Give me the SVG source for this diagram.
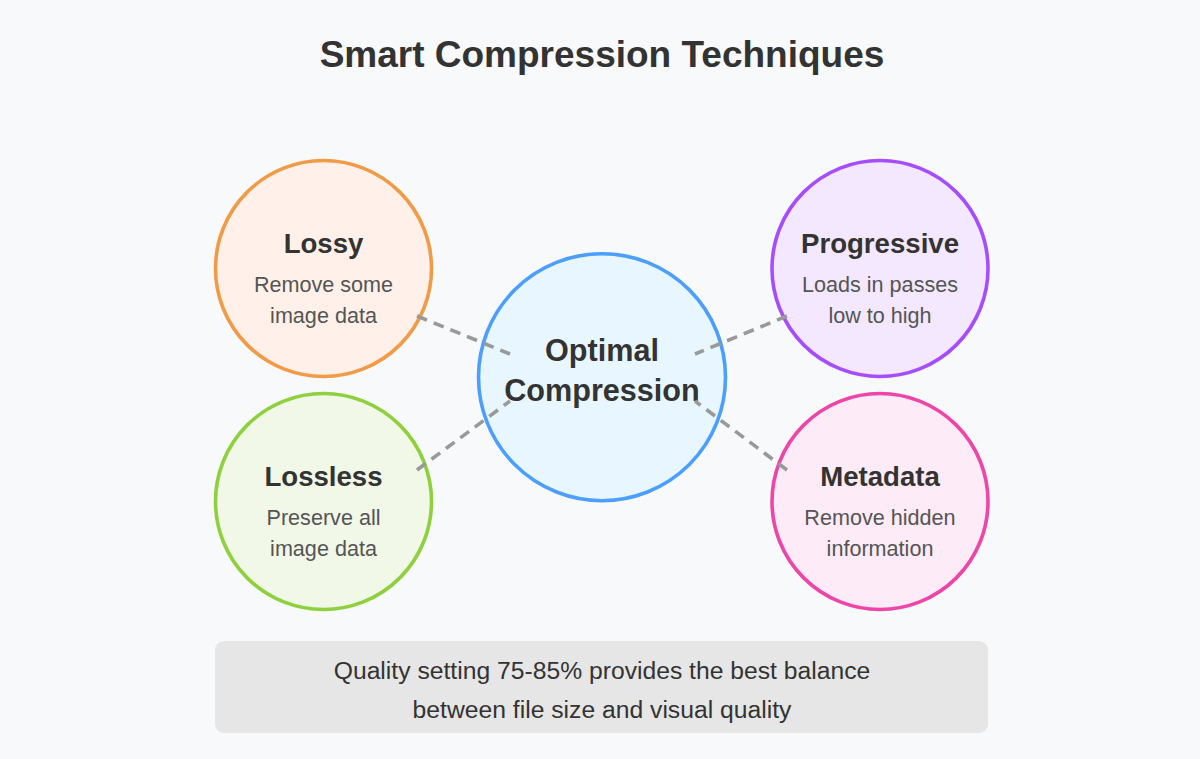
<svg xmlns="http://www.w3.org/2000/svg" width="1200" height="759" viewBox="0 0 1200 759">
<style>
text{font-family:"Liberation Sans",Arial,sans-serif;text-anchor:middle}
.c{stroke-width:3.6}
.h{font-size:27.6px;font-weight:700;fill:#333}
.d{font-size:21.6px;fill:#555}
.m{font-size:30.6px;font-weight:700;fill:#333}
.n{font-size:24.7px;fill:#333}
.l{stroke:#999;stroke-width:3.6;stroke-dasharray:10.8 7.2;fill:none}
</style>
<rect width="1200" height="759" fill="#f8f9fa"/>
<text x="602" y="67" font-size="37" font-weight="700" fill="#333">Smart Compression Techniques</text>
<g id="lossy"><circle class="c" cx="323.500" cy="268.500" r="108" fill="#fff1e9" stroke="#f29b47"/><text class="h" x="323.500" y="253">Lossy</text><text class="d" x="323.500" y="292">Remove some</text><text class="d" x="323.500" y="323">image data</text></g>
<g id="lossless"><circle class="c" cx="323.500" cy="501.500" r="108" fill="#f1f8e8" stroke="#8fd03f"/><text class="h" x="323.500" y="486">Lossless</text><text class="d" x="323.500" y="525">Preserve all</text><text class="d" x="323.500" y="556">image data</text></g>
<g id="progressive"><circle class="c" cx="880" cy="268.500" r="108" fill="#f3e8ff" stroke="#a64dff"/><text class="h" x="880" y="253">Progressive</text><text class="d" x="880" y="292">Loads in passes</text><text class="d" x="880" y="323">low to high</text></g>
<g id="metadata"><circle class="c" cx="880" cy="501.500" r="108" fill="#fdebf7" stroke="#ee46a8"/><text class="h" x="880" y="486">Metadata</text><text class="d" x="880" y="525">Remove hidden</text><text class="d" x="880" y="556">information</text></g>
<g id="optimal"><circle class="c" cx="602" cy="377.200" r="123.500" fill="#e8f7ff" stroke="#4d9fff"/><text class="m" x="602" y="361">Optimal</text><text class="m" x="602" y="401">Compression</text></g>
<g id="note"><rect x="215" y="641" width="773" height="92" rx="9" fill="#e6e6e6"/><text class="n" x="602" y="679">Quality setting 75-85% provides the best balance</text><text class="n" x="602" y="718">between file size and visual quality</text></g>
<g id="connectors">
<line class="l" x1="417" y1="316" x2="510" y2="354"/>
<line class="l" x1="417" y1="470" x2="510" y2="401"/>
<line class="l" x1="787" y1="316" x2="695" y2="354"/>
<line class="l" x1="787" y1="470" x2="695" y2="401"/>
</g>
</svg>
